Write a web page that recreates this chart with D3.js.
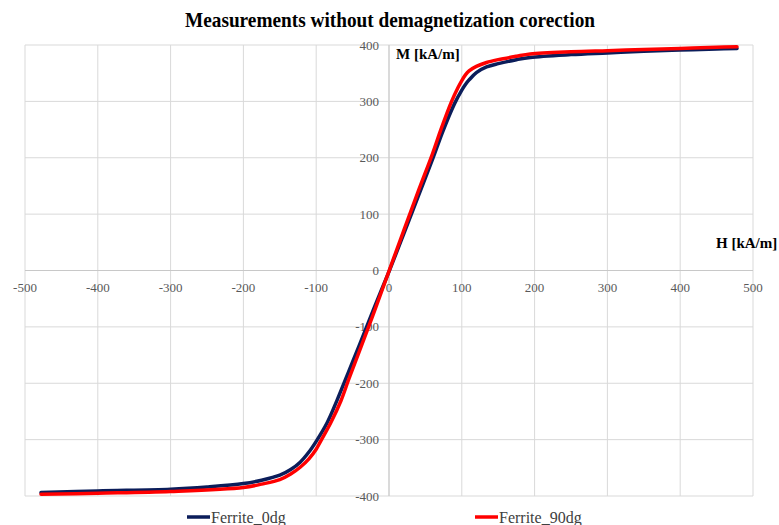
<!DOCTYPE html>
<html>
<head>
<meta charset="utf-8">
<script src="https://cdn.jsdelivr.net/npm/d3@7"></script>
<style>
  body { margin: 0; background: #fff; }
  svg { display: block; }
</style>
</head>
<body>
<div id="chart"></div>
<script>
// data (H in kA/m, M in kA/m)
var h0dg = [-478, -400, -300, -250, -200, -175, -150, -135, -122, -110, -100, -85, -71, -55, -40, -20, 0,
            20, 40, 60, 74, 90, 100, 105, 110, 120, 134, 150, 175, 194, 250, 300, 350, 400, 450, 478];
var m0dg = [-394, -391, -388, -384, -378, -372, -363, -353, -340, -322, -303, -270, -229, -178, -130, -65, -2,
            64, 131, 198, 247, 296, 320, 330, 338, 351, 361, 367, 374, 378, 383, 386, 389, 391, 393, 394];

var h90dg = [-478, -400, -300, -200, -175, -150, -135, -122, -110, -100, -94, -80, -66, -55, -40, -20, 0,
             20, 40, 60, 71, 86, 95, 100, 105, 110, 120, 134, 150, 175, 194, 250, 300, 350, 400, 450, 478];
var m90dg = [-397, -395, -392, -385, -379, -371, -361, -349, -334, -317, -303, -270, -231, -192, -141, -72, -1,
             70, 140, 208, 249, 300, 325, 337, 347, 354, 362, 369, 374, 380, 384, 388, 390, 392, 394, 396, 397];

var xTicks = [-500, -400, -300, -200, -100, 0, 100, 200, 300, 400, 500];
var yTicks = [-400, -300, -200, -100, 0, 100, 200, 300, 400];
var seriesNames = ["Ferrite_0dg", "Ferrite_90dg"];
var seriesColors = ["#0b1d5a", "#ff0000"];

var svgWidth = 779;
var svgHeight = 525;

var svg = d3.select("#chart")
    .append("svg")
    .attr("width", svgWidth)
    .attr("height", svgHeight);

var x = d3.scaleLinear().domain([-500, 500]).range([25, 753]);
var y = d3.scaleLinear().domain([-400, 400]).range([496, 45]);

// gridlines
svg.append("g").selectAll("line")
    .data(xTicks)
    .enter()
    .append("line")
    .attr("x1", d => x(d)).attr("x2", d => x(d))
    .attr("y1", y(400)).attr("y2", y(-400))
    .attr("stroke", "#d9d9d9")
    .attr("stroke-width", 1);

svg.append("g").selectAll("line")
    .data(yTicks)
    .enter()
    .append("line")
    .attr("x1", x(-500)).attr("x2", x(500))
    .attr("y1", d => y(d)).attr("y2", d => y(d))
    .attr("stroke", "#d9d9d9")
    .attr("stroke-width", 1);

// axes through the origin
svg.append("line")
    .attr("x1", x(0)).attr("x2", x(0))
    .attr("y1", y(400)).attr("y2", y(-400))
    .attr("stroke", "#c8c8c8");
svg.append("line")
    .attr("x1", x(-500)).attr("x2", x(500))
    .attr("y1", y(0)).attr("y2", y(0))
    .attr("stroke", "#c8c8c8");

// tick labels
svg.append("g").selectAll("text")
    .data(xTicks)
    .enter()
    .append("text")
    .attr("x", d => x(d))
    .attr("y", y(0) + 21)
    .attr("text-anchor", "middle")
    .style("font-family", "'Liberation Serif', serif")
    .style("font-size", "13px")
    .attr("fill", "#595959")
    .text(d => d);

svg.append("g").selectAll("text")
    .data(yTicks)
    .enter()
    .append("text")
    .attr("x", x(0) - 10)
    .attr("y", d => y(d) + 4.5)
    .attr("text-anchor", "end")
    .style("font-family", "'Liberation Serif', serif")
    .style("font-size", "13px")
    .attr("fill", "#595959")
    .text(d => d);

// curves
var line = d3.line()
    .x(d => x(d[0]))
    .y(d => y(d[1]))
    .curve(d3.curveCatmullRom.alpha(0.5));

var series = [
    d3.zip(h0dg, m0dg),
    d3.zip(h90dg, m90dg)
];

series.forEach(function(pts, i) {
    svg.append("path")
        .datum(pts)
        .attr("d", line)
        .attr("fill", "none")
        .attr("stroke", seriesColors[i])
        .attr("stroke-width", 3.5)
        .attr("stroke-linejoin", "round")
        .attr("stroke-linecap", "round");
});

// title
svg.append("text")
    .attr("x", 390)
    .attr("y", 27)
    .attr("text-anchor", "middle")
    .attr("textLength", 410)
    .attr("lengthAdjust", "spacingAndGlyphs")
    .style("font-family", "'Liberation Serif', serif")
    .style("font-weight", "bold")
    .style("font-size", "21px")
    .attr("fill", "#000")
    .text("Measurements without demagnetization corection");

// axis titles
svg.append("text")
    .attr("x", 396)
    .attr("y", 59)
    .style("font-family", "'Liberation Serif', serif")
    .style("font-weight", "bold")
    .style("font-size", "15px")
    .attr("fill", "#000")
    .text("M [kA/m]");

svg.append("text")
    .attr("x", 716)
    .attr("y", 248)
    .style("font-family", "'Liberation Serif', serif")
    .style("font-weight", "bold")
    .style("font-size", "15px")
    .attr("fill", "#000")
    .text("H [kA/m]");

// legend
var legendX = [187, 475];
seriesNames.forEach(function(name, i) {
    var g = svg.append("g").attr("transform", `translate(${legendX[i]}, 517)`);
    g.append("line")
        .attr("x1", 0).attr("x2", 23)
        .attr("y1", 0).attr("y2", 0)
        .attr("stroke", seriesColors[i])
        .attr("stroke-width", 3.5);
    g.append("text")
        .attr("x", 24)
        .attr("y", 5.5)
        .style("font-family", "'Liberation Serif', serif")
        .style("font-size", "16px")
        .attr("fill", "#404040")
        .text(name);
});
</script>
</body>
</html>
